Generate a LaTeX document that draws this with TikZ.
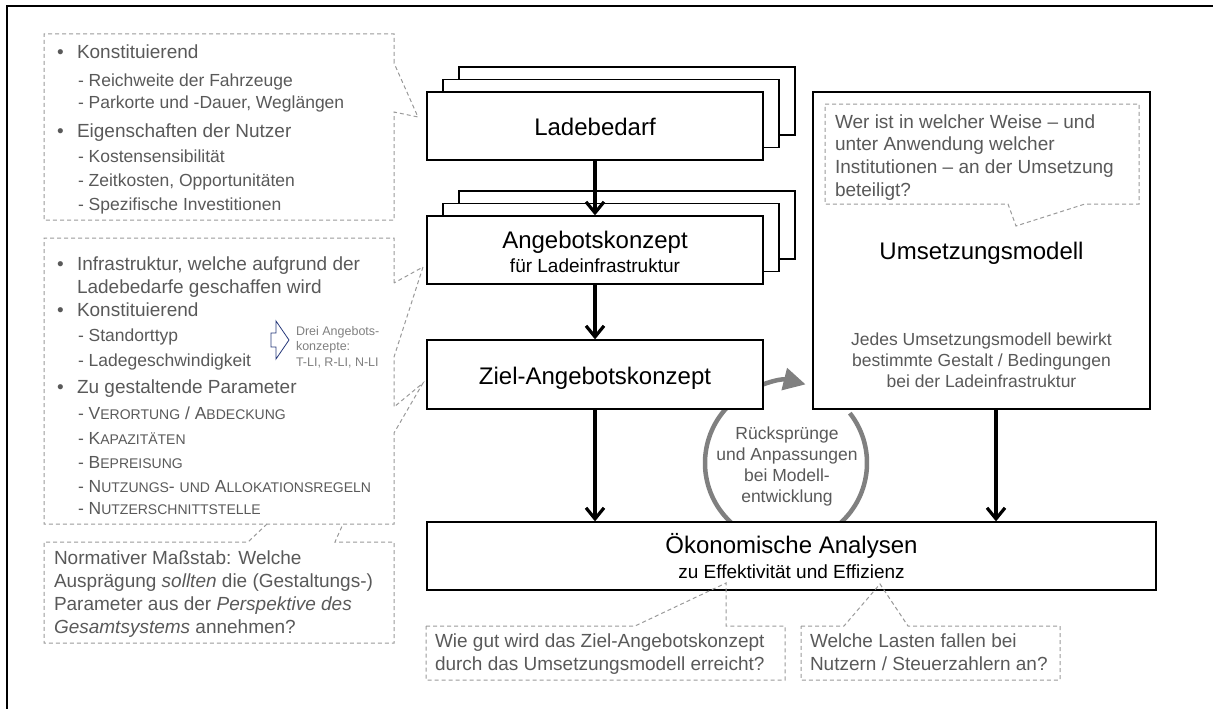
\documentclass[tikz,border=0pt]{standalone}
\usepackage{fontspec}
\setmainfont{Liberation Sans}
\usetikzlibrary{arrows.meta}
\definecolor{dgray}{HTML}{595959}
\definecolor{lgray}{HTML}{9A9A9A}
\definecolor{agray}{HTML}{808080}
\definecolor{navy}{HTML}{26387A}
\newcommand\fbig{\fontsize{24}{28}\selectfont}
\newcommand\fmed{\fontsize{19}{23}\selectfont}
\newcommand\fsub{\fontsize{17.5}{21}\selectfont}
\newcommand\fsml{\fontsize{12.5}{15}\selectfont}
\newcommand\fsc[2]{#1{\fontsize{14}{16}\selectfont #2}}
\begin{document}
\begin{tikzpicture}[x=1pt,y=-1pt,
 box/.style={draw=black,line width=1.3pt,fill=white,inner sep=0pt},
 callout/.style={draw=lgray,line width=1pt,dash pattern=on 4pt off 3pt},
 tx/.style={inner sep=0pt,outer sep=0pt,text=dgray,anchor=base west},
 bx/.style={inner sep=0pt,outer sep=0pt,text=black,anchor=base},
 gx/.style={inner sep=0pt,outer sep=0pt,text=dgray,anchor=base},
 arr/.style={line width=3.2pt,-{Straight Barb[length=11pt,width=18pt]}},
]
\useasboundingbox (0,0) rectangle (1213,709);
\draw[line width=1.2pt] (7,709) -- (7,6) -- (1213,6);

% cycle arrow
\draw[agray,line width=4.5pt,-{Triangle[length=22pt,width=22pt]}]
  (786,463) ++(-38:81) arc[start angle=-38,end angle=284,radius=81];

% main boxes
\node[box,minimum width=336pt,minimum height=68pt] (ladeC) at (627,101) {};
\node[box,minimum width=336pt,minimum height=68pt] (ladeB) at (611,113.5) {};
\node[box,minimum width=336pt,minimum height=68pt] (lade) at (595,126) {};
\node[box,minimum width=336pt,minimum height=68pt] (angC) at (627,225) {};
\node[box,minimum width=336pt,minimum height=68pt] (angB) at (611,237.5) {};
\node[box,minimum width=336pt,minimum height=68pt] (ang) at (595,250) {};
\node[box,minimum width=336pt,minimum height=69pt] (ziel) at (595,374.5) {};
\node[box,minimum width=729pt,minimum height=68pt] (oek) at (791.5,556) {};
\node[box,minimum width=337pt,minimum height=317pt] (umsetz) at (981.5,250.5) {};

% box texts
\node[bx] (tLade) at (595,135) {\fbig Ladebedarf};
\node[bx] (tAng1) at (595,248) {\fbig Angebotskonzept};
\node[bx] (tAng2) at (595,272.5) {\fmed für Ladeinfrastruktur};
\node[bx] (tZiel) at (595,384) {\fbig Ziel-Angebotskonzept};
\node[bx] (tOek1) at (791.5,553) {\fbig Ökonomische Analysen};
\node[bx] (tOek2) at (791.5,578) {\fmed zu Effektivität und Effizienz};
\node[bx] (tUms) at (981.5,259) {\fbig Umsetzungsmodell};
\node[gx] (j1) at (981.5,345) {\fsub Jedes Umsetzungsmodell bewirkt};
\node[gx] (j2) at (981.5,366) {\fsub bestimmte Gestalt / Bedingungen};
\node[gx] (j3) at (981.5,387) {\fsub bei der Ladeinfrastruktur};
\node[gx] (r1) at (787,439) {\fsub Rücksprünge};
\node[gx] (r2) at (787,460) {\fsub und Anpassungen};
\node[gx] (r3) at (787,481) {\fsub bei Modell-};
\node[gx] (r4) at (787,502) {\fsub entwicklung};

% flow arrows
\draw[arr] (lade.south) -- (ang.north);
\draw[arr] (ang.south) -- (ziel.north);
\draw[arr] (ziel.south) -- (ziel.south |- oek.north);
\draw[arr] ([xshift=14.5pt]umsetz.south) -- ([xshift=14.5pt]umsetz.south |- oek.north);

% callouts
\draw[callout] (394,63) -- (394,34) -- (44,34) -- (44,220) -- (394,220) -- (394,112) -- (418,117) -- cycle;
\draw[callout] (394,283) -- (394,238) -- (44,238) -- (44,524) -- (394,524) -- (394,433) -- (423,383) -- (394,407) -- (394,357) -- (423,267) -- cycle;
\draw[callout] (267,524) -- (248,542) -- (44,542) -- (44,643) -- (394,643) -- (394,542) -- (335,542) -- (343,524);
\draw[callout] (825,104) -- (1139,104) -- (1139,204) -- (1085,204) -- (1016,226) -- (1008,204) -- (825,204) -- cycle;
\draw[callout] (426,626) -- (635,626) -- (726,583) -- (726,626) -- (785,626) -- (785,680) -- (426,680) -- cycle;
\draw[callout] (801,626) -- (844,626) -- (880,584) -- (908,626) -- (1060,626) -- (1060,680) -- (801,680) -- cycle;

% box A text
\node[tx] (aB1) at (57,58.5) {\fmed •};
\node[tx] (a1) at (77,58.5) {\fmed Konstituierend};
\node[tx] (a2) at (78,86) {\fsub - Reichweite der Fahrzeuge};
\node[tx] (a3) at (78,108.5) {\fsub - Parkorte und -Dauer, Weglängen};
\node[tx] (aB2) at (57,137) {\fmed •};
\node[tx] (a4) at (77,137) {\fmed Eigenschaften der Nutzer};
\node[tx] (a5) at (78,162.5) {\fsub - Kostensensibilität};
\node[tx] (a6) at (78,186) {\fsub - Zeitkosten, Opportunitäten};
\node[tx] (a7) at (78,210) {\fsub - Spezifische Investitionen};

% box B text
\node[tx] (bB1) at (57,270.5) {\fmed •};
\node[tx] (b1) at (77,270.5) {\fmed Infrastruktur, welche aufgrund der};
\node[tx] (b2) at (77,293.5) {\fmed Ladebedarfe geschaffen wird};
\node[tx] (bB2) at (57,316.5) {\fmed •};
\node[tx] (b3) at (77,316.5) {\fmed Konstituierend};
\node[tx] (b4) at (78,341) {\fsub - Standorttyp};
\node[tx] (b5) at (78,366) {\fsub - Ladegeschwindigkeit};
\node[tx] (bB3) at (57,393.5) {\fmed •};
\node[tx] (b6) at (77,393.5) {\fmed Zu gestaltende Parameter};
\node[tx] (b7) at (78,419) {\fsub - \fsc{V}{ERORTUNG} / \fsc{A}{BDECKUNG}};
\node[tx] (b8) at (78,444) {\fsub - \fsc{K}{APAZITÄTEN}};
\node[tx] (b9) at (78,468) {\fsub - \fsc{B}{EPREISUNG}};
\node[tx] (b10) at (78,492) {\fsub - \fsc{N}{UTZUNGS}- {\fontsize{14}{16}\selectfont UND} \fsc{A}{LLOKATIONSREGELN}};
\node[tx] (b11) at (78,514.5) {\fsub - \fsc{N}{UTZERSCHNITTSTELLE}};

% Drei Angebotskonzepte
\draw[navy,line width=0.8pt] (271,333) -- (276,333) -- (276,321) -- (289,340) -- (276,359) -- (276,347) -- (271,347) -- cycle;
\node[tx,text=agray] (d1) at (296,335) {\fsml Drei Angebots-};
\node[tx,text=agray] (d2) at (296,350.5) {\fsml konzepte:};
\node[tx,text=agray] (d3) at (296,366) {\fsml T-LI, R-LI, N-LI};

% box C text
\node[tx] (c1) at (54,564) {\fmed Normativer Maßstab: Welche};
\node[tx] (c2) at (54,587) {\fmed Ausprägung \textit{sollten} die (Gestaltungs-)};
\node[tx] (c3) at (54,610) {\fmed Parameter aus der \textit{Perspektive des}};
\node[tx] (c4) at (54,633) {\fmed \textit{Gesamtsystems} annehmen?};

% Umsetzung callout text
\node[tx] (u1) at (835,128) {\fmed Wer ist in welcher Weise – und};
\node[tx] (u2) at (835,150.5) {\fmed unter Anwendung welcher};
\node[tx] (u3) at (835,173) {\fmed Institutionen – an der Umsetzung};
\node[tx] (u4) at (835,196) {\fmed beteiligt?};

% bottom callouts text
\node[tx] (w1) at (435,647) {\fmed Wie gut wird das Ziel-Angebotskonzept};
\node[tx] (w2) at (435,670) {\fmed durch das Umsetzungsmodell erreicht?};
\node[tx] (l1) at (810,647) {\fmed Welche Lasten fallen bei};
\node[tx] (l2) at (810,670) {\fmed Nutzern / Steuerzahlern an?};
\end{tikzpicture}
\end{document}
